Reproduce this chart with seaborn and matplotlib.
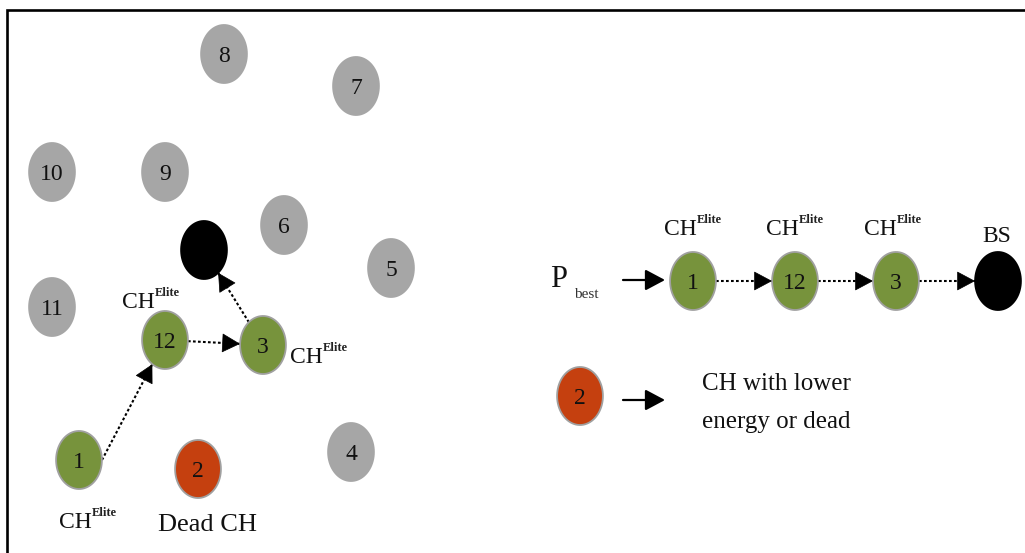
import numpy as np
import pandas as pd
import matplotlib
matplotlib.use("Agg")
import matplotlib.pyplot as plt
from matplotlib.path import Path
import seaborn as sns

# ---------------- data ----------------
node_label = ["8", "7", "10", "9", "6", "", "5", "11", "12", "3", "1", "2", "4",
              "1", "12", "3", "", "2"]
node_x = [224, 356, 52, 165, 284, 204, 391, 52, 165, 263, 79, 198, 351,
          693, 795, 896, 998, 580]
node_y = [54, 86, 172, 172, 225, 250, 268, 307, 340, 345, 460, 469, 452,
          281, 281, 281, 281, 396]
node_kind = ["normal", "normal", "normal", "normal", "normal", "bs", "normal", "normal",
             "elite", "elite", "elite", "dead", "normal",
             "elite", "elite", "elite", "bs", "dead"]

# dotted routing edges (source index, target index, source exit angle in degrees or None)
edge_src = [10, 8, 9, 13, 14, 15]
edge_dst = [8, 9, 5, 14, 15, 16]
edge_exit = [0, None, None, None, None, None]

# solid arrows (P_best -> path, legend)
solid_x0 = [623, 623]
solid_x1 = [665, 665]
solid_y = [280, 400]

# CH^Elite labels: left x of "CH", baseline
elite_x = [122, 290, 59, 664, 766, 864]
elite_y = [308, 363, 528, 235, 235, 235]

palette = {"normal": "#A6A6A6", "elite": "#77933C", "dead": "#C5400F", "bs": "#000000"}
edge_map = {"normal": "#A6A6A6", "elite": "#A0A0A0", "dead": "#A0A0A0", "bs": "#000000"}

# ---------------- figure ----------------
sns.set_theme(style="white")
plt.rcParams["font.family"] = ["Liberation Serif", "DejaVu Serif"]

fig = plt.figure(figsize=(10.25, 5.53), dpi=100)
ax = fig.add_axes([0, 0, 1, 1])

# ellipse marker (taller than wide)
t = np.linspace(0, 2 * np.pi, 80)
ellipse = Path(np.column_stack([0.79 * np.cos(t), np.sin(t)]), closed=True)

df = pd.DataFrame({"x": node_x, "y": node_y, "kind": node_kind, "label": node_label})
sns.scatterplot(data=df, x="x", y="y", hue="kind", palette=palette, marker=ellipse,
                s=1744, linewidth=1.3, legend=False, ax=ax, zorder=3)
coll = ax.collections[-1]
coll.set_edgecolors([edge_map[k] for k in node_kind])

for lab, x, y in zip(node_label, node_x, node_y):
    if lab:
        ax.text(x, y, lab, ha="center", va="center_baseline", fontsize=17,
                color="#111111", zorder=4)

# ellipse half-axes in pixels
A, B = 23.0, 29.0


def boundary(cx, cy, dx, dy):
    n = np.hypot(dx, dy)
    ux, uy = dx / n, dy / n
    r = 1.0 / np.sqrt((ux / A) ** 2 + (uy / B) ** 2)
    return cx + ux * r, cy + uy * r


head = "-|>,head_length=0.6,head_width=0.32"
for s, d, ang in zip(edge_src, edge_dst, edge_exit):
    sx, sy = node_x[s], node_y[s]
    tx, ty = node_x[d], node_y[d]
    if ang is None:
        x0, y0 = boundary(sx, sy, tx - sx, ty - sy)
    else:
        x0, y0 = boundary(sx, sy, np.cos(np.radians(ang)), -np.sin(np.radians(ang)))
    x1, y1 = boundary(tx, ty, x0 - tx, y0 - ty)
    ax.plot([x0, x1], [y0, y1], color="black", lw=1.5, linestyle=(0, (1.3, 1.1)),
            zorder=2)
    ux, uy = (x1 - x0), (y1 - y0)
    n = np.hypot(ux, uy)
    ax.annotate("", xy=(x1, y1), xytext=(x1 - ux / n * 3, y1 - uy / n * 3),
                arrowprops=dict(arrowstyle=head, color="black", lw=0.5,
                                shrinkA=0, shrinkB=0, mutation_scale=20), zorder=2)

for x0, x1, y in zip(solid_x0, solid_x1, solid_y):
    ax.annotate("", xy=(x1, y), xytext=(x0, y),
                arrowprops=dict(arrowstyle=head, color="black", lw=1.6,
                                shrinkA=0, shrinkB=0, mutation_scale=20))

for x, y in zip(elite_x, elite_y):
    ax.text(x, y, "CH", ha="left", va="baseline", fontsize=17, color="#111111")
    ax.text(x + 33, y - 12, "Elite", ha="left", va="baseline", fontsize=9,
            fontweight="bold", color="#222222")

ax.text(207, 531, "Dead CH", ha="center", va="baseline", fontsize=19, color="#111111")
ax.text(997, 242, "BS", ha="center", va="baseline", fontsize=17, color="#111111")
ax.text(550, 287, "P", ha="left", va="baseline", fontsize=22, color="#111111")
ax.text(574, 298, "best", ha="left", va="baseline", fontsize=11, color="#333333")
ax.text(702, 390, "CH with lower", ha="left", va="baseline", fontsize=18, color="#111111")
ax.text(702, 428, "energy or dead", ha="left", va="baseline", fontsize=18, color="#111111")

# frame (top and left edges)
ax.plot([7, 7, 1025], [553, 10, 10], color="black", lw=1.9, clip_on=False,
        solid_joinstyle="miter")

ax.set_xlim(0, 1025)
ax.set_ylim(553, 0)
ax.axis("off")

fig.savefig("out.png", dpi=100)
